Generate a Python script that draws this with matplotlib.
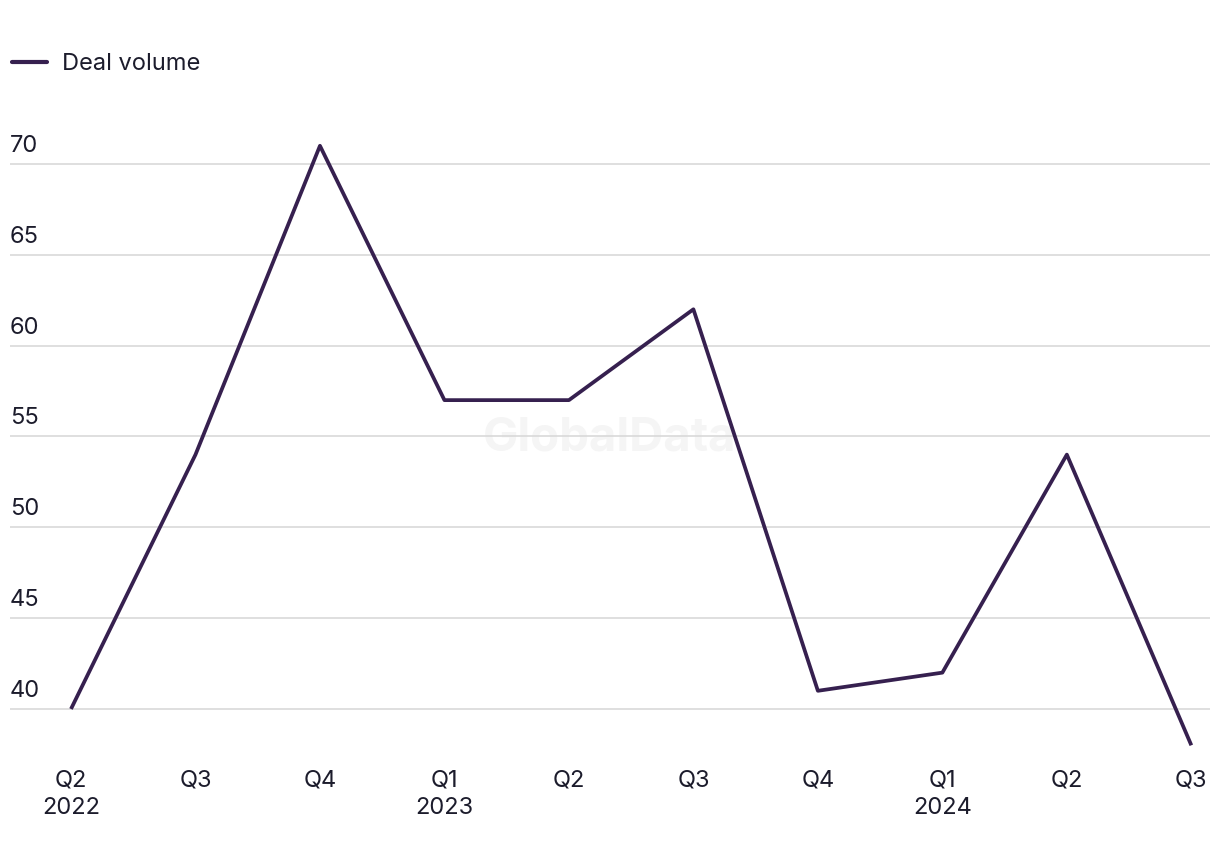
import matplotlib.pyplot as plt
from matplotlib.lines import Line2D

# quarterly deal volume
quarters = ["Q2\n2022", "Q3", "Q4", "Q1\n2023", "Q2", "Q3", "Q4", "Q1\n2024", "Q2", "Q3"]
deal_volume = [40, 54, 71, 57, 57, 62, 41, 42, 54, 38]
y_ticks = [40, 45, 50, 55, 60, 65, 70]

line_color = '#36204f'
text_color = '#1c1c2c'
plt.rcParams['font.family'] = ['Inter', 'DejaVu Sans']

fig = plt.figure(figsize=(12.2, 8.66), dpi=100)
ax = fig.add_axes([0.0082, 0.1184, 0.9836, 0.7552])

x = list(range(len(quarters)))
ax.plot(x, deal_volume, color=line_color, linewidth=2.7, solid_capstyle='butt', zorder=3)

ax.set_xlim(-0.49, 9.15)
ax.set_ylim(37, 73)

# horizontal grid lines with labels sitting above them
for v in y_ticks:
    ax.axhline(v, color='#d9d9d9', linewidth=1.2, zorder=1)
    ax.annotate(str(v), xy=(0, v), xycoords=ax.get_yaxis_transform(),
                xytext=(0, 7), textcoords='offset pixels',
                ha='left', va='bottom', fontsize=17, color=text_color)

ax.set_yticks([])
ax.set_xticks(x)
ax.set_xticklabels(quarters, fontsize=17, color=text_color, linespacing=1.35)
ax.tick_params(axis='x', length=0, pad=4)
for s in ax.spines.values():
    s.set_visible(False)

# watermark
ax.text(0.5, 0.497, "GlobalData", transform=ax.transAxes, ha='center', va='center',
        fontsize=34, fontweight='bold', color='#f5f5f5', zorder=0)

# legend
handle = Line2D([], [], color=line_color, linewidth=3, solid_capstyle='round')
fig.legend([handle], ["Deal volume"], loc='center left', bbox_to_anchor=(-0.004, 0.926),
           frameon=False, fontsize=17, handlelength=1.5, handletextpad=0.65,
           labelcolor=text_color, borderaxespad=0.3)

fig.savefig("out.png", dpi=100)
